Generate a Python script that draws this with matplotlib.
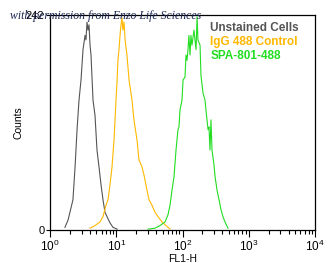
import matplotlib.pyplot as plt
from matplotlib.ticker import LogLocator, LogFormatterMathtext, NullFormatter

plt.rcParams['font.family'] = ['Liberation Sans', 'DejaVu Sans']

# FL1-H intensity and counts
gray_x = [1.68, 1.87, 2.00, 2.22, 2.39, 2.56, 2.74, 2.94, 3.15, 3.38, 3.49, 3.62, 3.75,
          3.88, 4.02, 4.16, 4.46, 4.78, 5.12, 5.49, 5.89, 6.31, 6.76, 7.25, 8.05, 8.93, 10.3]
gray_y = [3, 11, 20, 34, 71, 113, 146, 169, 203, 219, 214, 234, 225,
          231, 208, 197, 146, 129, 90, 71, 51, 34, 20, 15, 8, 3, 1]

igg_x = [4.02, 4.78, 5.68, 6.31, 7.00, 7.51, 8.05, 8.63, 9.25, 9.91, 10.3, 10.6, 11.0,
         11.4, 11.8, 12.2, 12.6, 13.1, 13.6, 14.5, 15.6, 17.3, 18.5, 20.6, 22.0, 24.5,
         26.2, 29.1, 31.2, 34.6, 38.4, 42.7, 49.1, 56.3, 64.8]
igg_y = [2, 5, 9, 15, 28, 34, 51, 71, 101, 146, 169, 191, 203,
         219, 231, 239, 225, 234, 214, 197, 169, 146, 124, 101, 79, 71,
         62, 45, 34, 28, 20, 15, 9, 5, 1]

spa_x = [30.2, 38.4, 45.7, 54.4, 60.4, 64.8, 69.5, 74.5, 79.8, 85.5, 88.5, 91.6, 98.2,
         102, 109, 113, 117, 121, 125, 130, 134, 139, 149, 160, 166, 171, 184, 190,
         204, 219, 226, 243, 251, 260, 269, 279, 299, 310, 332, 356, 381, 408, 438, 486]
spa_y = [1, 2, 5, 9, 17, 28, 45, 60, 90, 113, 116, 135, 146,
         169, 172, 197, 191, 203, 219, 197, 219, 208, 225, 203, 240, 214, 208, 174,
         154, 146, 135, 113, 116, 90, 124, 90, 73, 60, 45, 34, 23, 15, 9, 2]

labels = ['Unstained Cells', 'IgG 488 Control', 'SPA-801-488']
colors = ['#555555', '#FFB800', '#22DD22']

fig = plt.figure(figsize=(3.3, 2.63), dpi=100)
ax = fig.add_axes([50 / 330, 33 / 263, 265 / 330, 215 / 263])

ax.plot(gray_x, gray_y, color=colors[0], lw=0.8)
ax.plot(igg_x, igg_y, color=colors[1], lw=0.8)
ax.plot(spa_x, spa_y, color=colors[2], lw=0.8)

ax.set_xscale('log')
ax.set_xlim(1, 1e4)
ax.set_ylim(0, 242)
ax.xaxis.set_major_locator(LogLocator(base=10))
ax.xaxis.set_major_formatter(LogFormatterMathtext())
ax.xaxis.set_minor_locator(LogLocator(base=10, subs=range(2, 10)))
ax.xaxis.set_minor_formatter(NullFormatter())
ax.set_yticks([0, 242])
ax.set_yticklabels(['0', '242'])
ax.tick_params(axis='x', which='major', direction='out', length=5, width=0.8,
               labelsize=8.5, pad=1)
ax.tick_params(axis='x', which='minor', direction='out', length=3, width=0.8)
ax.tick_params(axis='y', direction='out', length=3, width=0.8, labelsize=8, pad=1)
for s in ax.spines.values():
    s.set_linewidth(0.9)

ax.set_xlabel('FL1-H', fontsize=7.5, labelpad=0)
ax.set_ylabel('Counts', fontsize=7.5, labelpad=2)

for i, (lab, c) in enumerate(zip(labels, colors)):
    ax.text(0.605, 0.94 - i * 0.065, lab, color=c, fontsize=8.5, fontweight='bold',
            transform=ax.transAxes, va='center', ha='left')

fig.text(10 / 330, 1 - 16 / 263, 'with permission from Enzo Life Sciences',
         family='Liberation Serif', style='italic', fontsize=8.5, color='#1a2550',
         va='center', ha='left')

fig.savefig('out.png', dpi=100)
